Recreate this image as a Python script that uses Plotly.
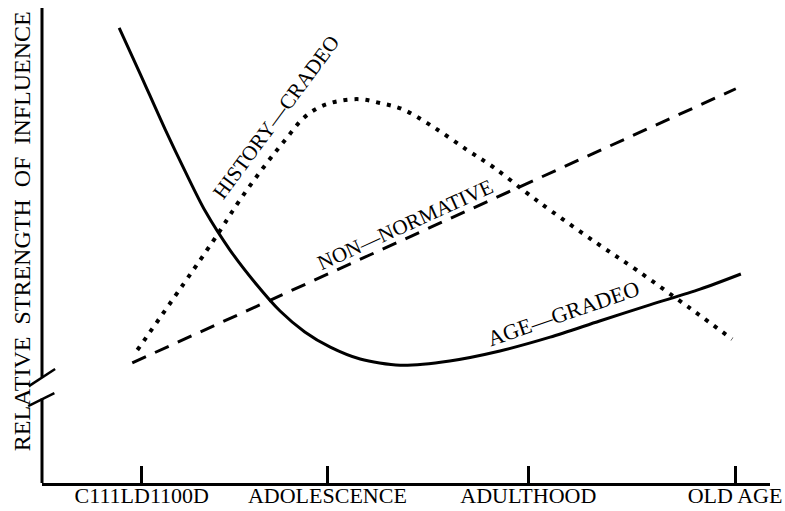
import plotly.graph_objects as go

# ---- data (x: position along the life span, 0-100; y: relative strength, 0-100) ----
stage_labels = ["C111LD1100D", "ADOLESCENCE", "ADULTHOOD", "OLD AGE"]
stage_pos = [13.7, 39.2, 66.8, 95.2]

age_graded_x = [10.6, 13.5, 16.9, 19.7, 22.4, 25.8, 29.3, 32.7, 36.1, 39.6, 43.7, 49.2, 56.0, 62.9, 69.8, 76.6, 83.5, 90.4, 96.0]
age_graded_y = [95.8, 86.1, 74.5, 65.5, 57.3, 49.1, 42.1, 36.2, 31.8, 28.6, 26.1, 24.8, 25.7, 27.8, 30.7, 34.1, 37.5, 40.8, 44.0]

history_x = [13.1, 23.4, 27.2, 30.9, 33.4, 35.9, 38.2, 40.7, 43.7, 46.4, 49.5, 53.7, 58.4, 62.0, 66.4, 70.1, 76.2, 81.7, 89.0, 94.8]
history_y = [28.0, 50.7, 59.6, 67.4, 72.2, 76.8, 79.2, 80.4, 80.8, 80.0, 78.7, 75.0, 70.1, 66.5, 61.3, 57.1, 50.5, 44.8, 36.8, 30.3]

non_normative_x = [12.4, 95.3]
non_normative_y = [25.3, 83.0]

FONT = "Liberation Serif, Times New Roman, serif"

fig = go.Figure()
fig.add_trace(go.Scatter(x=age_graded_x, y=age_graded_y, mode="lines",
                         line=dict(color="black", width=3, shape="spline", smoothing=0.8),
                         name="AGE—GRADEO"))
fig.add_trace(go.Scatter(x=history_x, y=history_y, mode="lines",
                         line=dict(color="black", width=4, shape="spline", smoothing=1.0, dash="4px,7px"),
                         name="HISTORY—CRADEO"))
fig.add_trace(go.Scatter(x=non_normative_x, y=non_normative_y, mode="lines",
                         line=dict(color="black", width=3, dash="15px,10px"),
                         name="NON—NORMATIVE"))

# curve labels
fig.add_annotation(x=32.2, y=77.0, text="HISTORY—CRADEO", textangle=-53.5, showarrow=False,
                   font=dict(family=FONT, size=21, color="black"))
fig.add_annotation(x=49.8, y=54.4, text="NON—NORMATIVE", textangle=-24.5, showarrow=False,
                   font=dict(family=FONT, size=21, color="black"))
fig.add_annotation(x=71.6, y=35.7, text="AGE—GRADEO", textangle=-19, showarrow=False,
                   font=dict(family=FONT, size=22, color="black"))

# y-axis title
fig.add_annotation(xref="paper", yref="paper", x=-0.0275, y=0.53, xanchor="center", yanchor="middle",
                   text="RELATIVE\u00a0\u00a0STRENGTH\u00a0\u00a0OF\u00a0\u00a0INFLUENCE",
                   textangle=-90, showarrow=False,
                   font=dict(family=FONT, size=24, color="black"))

# y-axis line with break marks
ax_line = dict(color="black", width=3)
fig.add_shape(type="line", xref="paper", yref="paper", x0=0, x1=0, y0=0, y1=0.178, line=ax_line)
fig.add_shape(type="line", xref="paper", yref="paper", x0=0, x1=0, y0=0.223, y1=1.0, line=ax_line)
fig.add_shape(type="line", xref="paper", yref="paper", x0=-0.018, x1=0.018, y0=0.204, y1=0.240,
              line=dict(color="black", width=2.5))
fig.add_shape(type="line", xref="paper", yref="paper", x0=-0.019, x1=0.017, y0=0.162, y1=0.189,
              line=dict(color="black", width=2.5))

fig.update_layout(
    width=785, height=511,
    margin=dict(l=42, r=15, t=8, b=28, autoexpand=False),
    paper_bgcolor="white", plot_bgcolor="white",
    showlegend=False,
    font=dict(family=FONT, color="black"),
)
fig.update_xaxes(range=[0, 100], showgrid=False, zeroline=False, automargin=False,
                 showline=True, linecolor="black", linewidth=3,
                 tickmode="array", tickvals=stage_pos, ticktext=stage_labels,
                 ticks="inside", ticklen=17, tickwidth=2.5, tickcolor="black",
                 ticklabelstandoff=-9,
                 tickfont=dict(family=FONT, size=22, color="black"))
fig.update_yaxes(range=[0, 100], showgrid=False, zeroline=False, showline=False, automargin=False,
                 showticklabels=False, ticks="")

fig.write_html("out.html", config={"displayModeBar": False},
               post_script="document.body.style.margin='0px';document.body.style.overflow='hidden';")
